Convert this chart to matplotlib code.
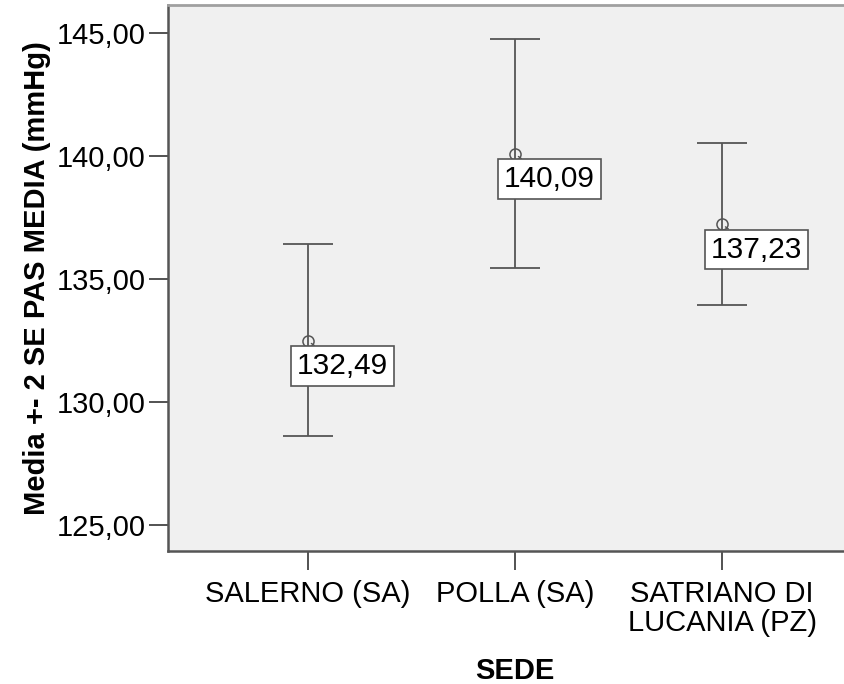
import matplotlib.pyplot as plt

plt.rcParams['font.family'] = ['Liberation Sans', 'DejaVu Sans']

# dati
sedi = ['SALERNO (SA)', 'POLLA (SA)', 'SATRIANO DI\nLUCANIA (PZ)']
medie = [132.49, 140.09, 137.23]
sup = [136.45, 144.76, 140.55]
inf = [128.62, 135.45, 133.95]
etichette = ['132,49', '140,09', '137,23']
yticks = [125, 130, 135, 140, 145]
ytick_labels = ['125,00', '130,00', '135,00', '140,00', '145,00']

fig = plt.figure(figsize=(8.44, 6.84), dpi=100)
ax = fig.add_axes([0.1991, 0.1944, 0.8223, 0.7983])
ax.set_facecolor('#f0f0f0')

x = list(range(len(sedi)))
err_low = [m - l for m, l in zip(medie, inf)]
err_high = [u - m for m, u in zip(medie, sup)]
ax.errorbar(x, medie, yerr=[err_low, err_high], fmt='none', ecolor='#555555',
            elinewidth=1.3, capsize=18, capthick=1.3)
ax.plot(x, medie, 'o', mfc='none', mec='#555555', ms=8, mew=1.1)

for xi, m, lab in zip(x, medie, etichette):
    ax.annotate(lab, xy=(xi, m), xytext=(-8, -8), textcoords='offset points',
                ha='left', va='top', fontsize=21.5,
                bbox=dict(boxstyle='square,pad=0.2', fc='white', ec='#555555', lw=1.2),
                arrowprops=dict(arrowstyle='-', color='#555555', lw=1,
                                shrinkA=0, shrinkB=3))

ax.set_xlim(-0.676, 2.676)
ax.set_ylim(123.95, 146.15)
ax.set_xticks(x)
ax.set_xticklabels(sedi, fontsize=21, linespacing=1.05)
ax.set_yticks(yticks)
ax.set_yticklabels(ytick_labels, fontsize=21)
ax.tick_params(axis='both', length=14, width=1.3, color='#444444', pad=2)
ax.tick_params(axis='x', pad=7)

ax.spines['left'].set_color('#555555')
ax.spines['left'].set_linewidth(1.8)
ax.spines['bottom'].set_color('#555555')
ax.spines['bottom'].set_linewidth(1.8)
ax.spines['top'].set_color('#a0a0a0')
ax.spines['top'].set_linewidth(2)
ax.spines['right'].set_visible(False)

ax.set_xlabel('SEDE', fontsize=21, fontweight='bold', labelpad=14)
ax.set_ylabel('Media +- 2 SE PAS MEDIA (mmHg)', fontsize=21, fontweight='bold', labelpad=4)

fig.savefig('out.png', dpi=100)
